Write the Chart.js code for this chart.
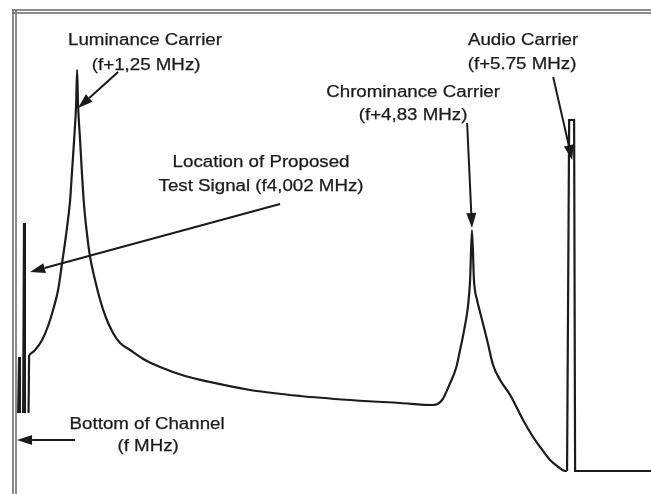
<!DOCTYPE html>
<html>
<head>
<meta charset="utf-8">
<title>TV channel spectrum</title>
<script src="https://cdn.jsdelivr.net/npm/chart.js@4.4.1/dist/chart.umd.min.js"></script>
<style>
  html, body { margin: 0; padding: 0; background: #fff; }
  canvas { display: block; }
</style>
</head>
<body>
<canvas id="spectrumChart" width="651" height="494"></canvas>
<script>
// Spectrum trace: frequency (MHz above f) and relative level
const traceFreqs = [
  0.810, 0.815, 0.869, 0.933, 0.987, 1.032, 1.078, 1.114, 1.150, 1.187, 1.205, 1.223, 1.241,
  1.250, 1.259, 1.277, 1.295, 1.313, 1.341, 1.368, 1.413, 1.459, 1.513, 1.576, 1.640, 1.730,
  1.866, 2.002, 2.229, 2.456, 2.818, 3.272, 3.725, 4.178, 4.478, 4.559, 4.632, 4.686, 4.722,
  4.759, 4.795, 4.813, 4.830, 4.848, 4.876, 4.903, 4.967, 5.021, 5.085, 5.176, 5.293, 5.384,
  5.448, 5.538, 5.602, 5.674, 5.692, 5.711, 5.756, 5.765, 6.453
];
const traceLevels = [
  16.2, 27.8, 28.8, 30.8, 33.6, 36.8, 40.8, 46.2, 51.8, 58.8, 64.8, 70.8, 77.8,
  84.8, 77.8, 70.8, 63.8, 57.8, 51.8, 47.4, 42.8, 38.8, 35.2, 32.2, 30.2, 28.8,
  26.8, 25.4, 23.6, 22.4, 20.8, 19.6, 18.8, 18.2, 17.8, 18.8, 22.2, 25.2, 28.8,
  32.8, 37.8, 42.8, 52.8, 42.8, 38.8, 36.4, 30.8, 25.8, 22.8, 19.8, 14.8, 11.4,
  9.4, 6.8, 5.6, 4.6, 4.6, 74.8, 74.8, 4.6, 4.6
];

// Narrow spikes at the bottom of the channel (test signal)
const spikeFreqs = [0.724, 0.769];
const spikeLevels = [27.4, 54.2];
const spikeFloor = 16.2;

// Callout texts
const labelLines = [
  'Luminance Carrier', '(f+1,25 MHz)',
  'Audio Carrier', '(f+5.75 MHz)',
  'Chrominance Carrier', '(f+4,83 MHz)',
  'Location of Proposed', 'Test Signal (f4,002 MHz)',
  'Bottom of Channel', '(f MHz)'
];

// Where each callout line sits (data coords: MHz, level)
const labelAnchors = [
  [1.866, 90.6], [1.876, 85.6],
  [5.293, 90.6], [5.284, 85.8],
  [4.296, 80.2], [4.296, 75.6],
  [2.918, 66.2], [2.918, 61.4],
  [1.885, 13.8], [1.894, 9.4]
];

// Arrows: [fromX, fromY, toX, toY] in data coords
const arrows = [
  [1.622, 84.4, 1.259, 77.2],
  [3.090, 58.0, 0.824, 44.4],
  [4.786, 74.2, 4.830, 53.2],
  [5.566, 83.4, 5.738, 66.8],
  [1.232, 10.8, 0.706, 10.8]
];

function toPoints(xs, ys, from, to) {
  const pts = [];
  for (let i = from; i <= to; i++) pts.push({ x: xs[i], y: ys[i] });
  return pts;
}

function spikePoints() {
  const pts = [];
  spikeFreqs.forEach((f, i) => {
    pts.push({ x: f - 0.008, y: spikeFloor });
    pts.push({ x: f, y: spikeLevels[i] });
    pts.push({ x: f + 0.008, y: spikeFloor });
    pts.push({ x: f + 0.02, y: null });
  });
  return pts;
}

// smooth part runs from the left foot to the bottom of the audio carrier
const last = traceFreqs.length - 1;
const audioStart = traceFreqs.indexOf(5.692);

// Frame: double rule on the left and top like the scanned figure
const framePlugin = {
  id: 'frame',
  afterDraw(chart) {
    const { ctx, chartArea } = chart;
    ctx.save();
    ctx.strokeStyle = '#666';
    ctx.lineWidth = 1.5;
    [1, 4].forEach(off => {
      ctx.beginPath();
      ctx.moveTo(chartArea.left + off, chartArea.top - 2);
      ctx.lineTo(chartArea.left + off, chart.height);
      ctx.stroke();
      ctx.beginPath();
      ctx.moveTo(chartArea.left, chartArea.top - 3 + off);
      ctx.lineTo(chart.width, chartArea.top - 3 + off);
      ctx.stroke();
    });
    ctx.restore();
  }
};

// Callout texts and arrows
const calloutPlugin = {
  id: 'callouts',
  afterDraw(chart) {
    const { ctx } = chart;
    const xs = chart.scales.x;
    const ys = chart.scales.y;
    ctx.save();
    ctx.fillStyle = '#1a1a1a';
    ctx.strokeStyle = '#1a1a1a';
    ctx.font = '16px "Liberation Sans", Arial, sans-serif';
    ctx.textAlign = 'center';
    ctx.textBaseline = 'middle';
    ctx.lineWidth = 0.25;
    labelLines.forEach((txt, i) => {
      const px = xs.getPixelForValue(labelAnchors[i][0]);
      const py = ys.getPixelForValue(labelAnchors[i][1]);
      ctx.save();
      ctx.translate(px, py);
      ctx.scale(1.17, 1);
      ctx.fillText(txt, 0, 0);
      ctx.strokeText(txt, 0, 0);
      ctx.restore();
    });

    ctx.lineWidth = 2;
    arrows.forEach(a => {
      const x1 = xs.getPixelForValue(a[0]);
      const y1 = ys.getPixelForValue(a[1]);
      const x2 = xs.getPixelForValue(a[2]);
      const y2 = ys.getPixelForValue(a[3]);
      const ang = Math.atan2(y2 - y1, x2 - x1);
      const len = 15;
      const half = 5;
      const bx = x2 - len * Math.cos(ang);
      const by = y2 - len * Math.sin(ang);
      ctx.beginPath();
      ctx.moveTo(x1, y1);
      ctx.lineTo(bx, by);
      ctx.stroke();
      ctx.beginPath();
      ctx.moveTo(x2, y2);
      ctx.lineTo(bx + half * Math.sin(ang), by - half * Math.cos(ang));
      ctx.lineTo(bx - half * Math.sin(ang), by + half * Math.cos(ang));
      ctx.closePath();
      ctx.fill();
    });
    ctx.restore();
  }
};

const lineStyle = {
  showLine: true,
  borderColor: '#1c1c1c',
  borderWidth: 2.2,
  pointRadius: 0
};

const ctx = document.getElementById('spectrumChart').getContext('2d');
new Chart(ctx, {
  type: 'scatter',
  data: {
    datasets: [
      { ...lineStyle, label: 'Left foot', data: toPoints(traceFreqs, traceLevels, 0, 1), tension: 0 },
      { ...lineStyle, label: 'Channel spectrum', data: toPoints(traceFreqs, traceLevels, 1, audioStart), cubicInterpolationMode: 'monotone' },
      { ...lineStyle, label: 'Audio carrier', data: toPoints(traceFreqs, traceLevels, audioStart, last), tension: 0 },
      { ...lineStyle, label: 'Test signal', data: spikePoints(), spanGaps: false, tension: 0 }
    ]
  },
  options: {
    responsive: false,
    devicePixelRatio: 1,
    animation: false,
    layout: { padding: { left: 12, top: 12, right: 0, bottom: 0 } },
    plugins: {
      legend: { display: false },
      tooltip: { enabled: false }
    },
    scales: {
      x: { type: 'linear', min: 0.66, max: 6.453, display: false },
      y: { type: 'linear', min: 0, max: 96.4, display: false }
    }
  },
  plugins: [framePlugin, calloutPlugin]
});
</script>
</body>
</html>
